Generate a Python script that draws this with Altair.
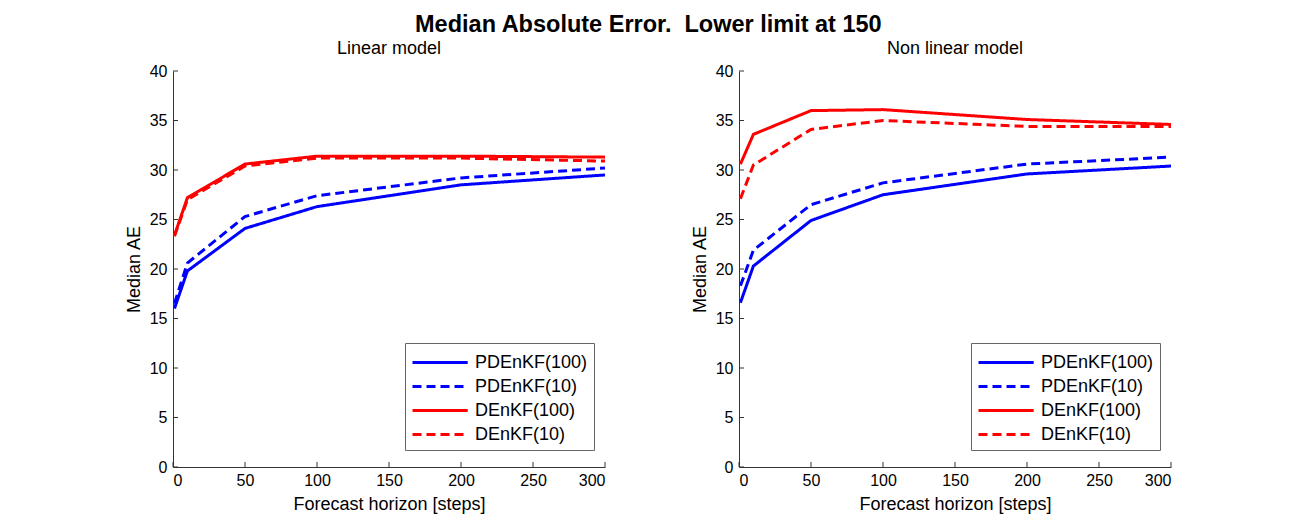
import altair as alt
import pandas as pd

steps = [1, 10, 50, 100, 200, 300]
series = ["PDEnKF(100)", "PDEnKF(10)", "DEnKF(100)", "DEnKF(10)"]

lin_pd100 = [16.0, 19.8, 24.1, 26.3, 28.5, 29.5]
lin_pd10 = [16.5, 20.6, 25.3, 27.4, 29.2, 30.2]
lin_d100 = [23.4, 27.2, 30.6, 31.4, 31.4, 31.3]
lin_d10 = [23.3, 27.0, 30.4, 31.2, 31.2, 30.9]

non_pd100 = [16.6, 20.3, 24.9, 27.5, 29.6, 30.4]
non_pd10 = [18.3, 21.9, 26.5, 28.7, 30.6, 31.3]
non_d100 = [30.6, 33.6, 36.0, 36.1, 35.1, 34.6]
non_d10 = [27.1, 30.5, 34.1, 35.0, 34.4, 34.4]

x_ticks = [0, 50, 100, 150, 200, 250, 300]
y_ticks = [0, 5, 10, 15, 20, 25, 30, 35, 40]

colors = ["#0000ff", "#0000ff", "#ff0000", "#ff0000"]
dashes = [[1, 0], [9, 5], [1, 0], [9, 5]]

FONT = "Liberation Sans"
W, H = 432, 396


def make_df(vals):
    rows = []
    for name, v in zip(series, vals):
        for s, y in zip(steps, v):
            rows.append({"step": s, "value": y, "series": name})
    return pd.DataFrame(rows)


def panel(vals, title):
    df = make_df(vals)
    xs = alt.Scale(domain=[0, 300], nice=False)
    ys = alt.Scale(domain=[0, 40], nice=False)
    leg = alt.Legend(title=None, orient="none", legendX=232, legendY=272)
    lines = alt.Chart(df).mark_line(strokeWidth=3, clip=True).encode(
        x=alt.X("step:Q", scale=xs, title="Forecast horizon [steps]",
                axis=alt.Axis(values=x_ticks, ticks=False, grid=False,
                              labelPadding=5)),
        y=alt.Y("value:Q", scale=ys, title="Median AE",
                axis=alt.Axis(values=y_ticks, ticks=False, grid=False,
                              labelPadding=6)),
        color=alt.Color("series:N",
                        scale=alt.Scale(domain=series, range=colors),
                        legend=leg),
        strokeDash=alt.StrokeDash("series:N",
                                  scale=alt.Scale(domain=series, range=dashes),
                                  legend=leg),
        detail="series:N",
    )
    ytick = alt.Chart(pd.DataFrame({"t": y_ticks})).mark_rule(
        color="#333333", strokeWidth=1).encode(
        y=alt.Y("t:Q", scale=ys), x=alt.value(0), x2=alt.value(5))
    xtick = alt.Chart(pd.DataFrame({"t": x_ticks})).mark_rule(
        color="#333333", strokeWidth=1).encode(
        x=alt.X("t:Q", scale=xs), y=alt.value(H), y2=alt.value(H - 5))
    return alt.layer(lines, ytick, xtick).properties(
        width=W, height=H,
        title=alt.TitleParams(title, fontSize=18, fontWeight="normal",
                              font=FONT, color="black", offset=5),
    )


left = panel([lin_pd100, lin_pd10, lin_d100, lin_d10], "Linear model")
right = panel([non_pd100, non_pd10, non_d100, non_d10], "Non linear model")

chart = alt.hconcat(left, right, spacing=85).resolve_scale(
    color="independent", strokeDash="independent"
).properties(
    title=alt.TitleParams("Median Absolute Error.\u00a0 Lower limit at 150",
                          fontSize=23.5, fontWeight="bold", font=FONT,
                          color="black", anchor="middle", offset=4),
    padding={"left": 117, "top": 4, "right": 10, "bottom": 5},
).configure(
    font=FONT,
).configure_view(
    stroke=None,
).configure_axis(
    domainColor="#333333",
    domainWidth=1,
    labelFont=FONT,
    labelFontSize=16,
    labelColor="black",
    titleFont=FONT,
    titleFontSize=18,
    titleFontWeight="normal",
    titleColor="black",
).configure_axisY(
    titlePadding=6,
).configure_axisX(
    titlePadding=7,
).configure_legend(
    symbolType="M-1,0L3.6,0",
    symbolSize=576,
    symbolStrokeWidth=3,
    labelFont=FONT,
    labelFontSize=18,
    labelColor="black",
    strokeColor="#666666",
    fillColor="white",
    padding=6,
    rowPadding=1,
    labelOffset=37,
)

chart.save("out.html", embed_options={"renderer": "svg", "actions": False})
